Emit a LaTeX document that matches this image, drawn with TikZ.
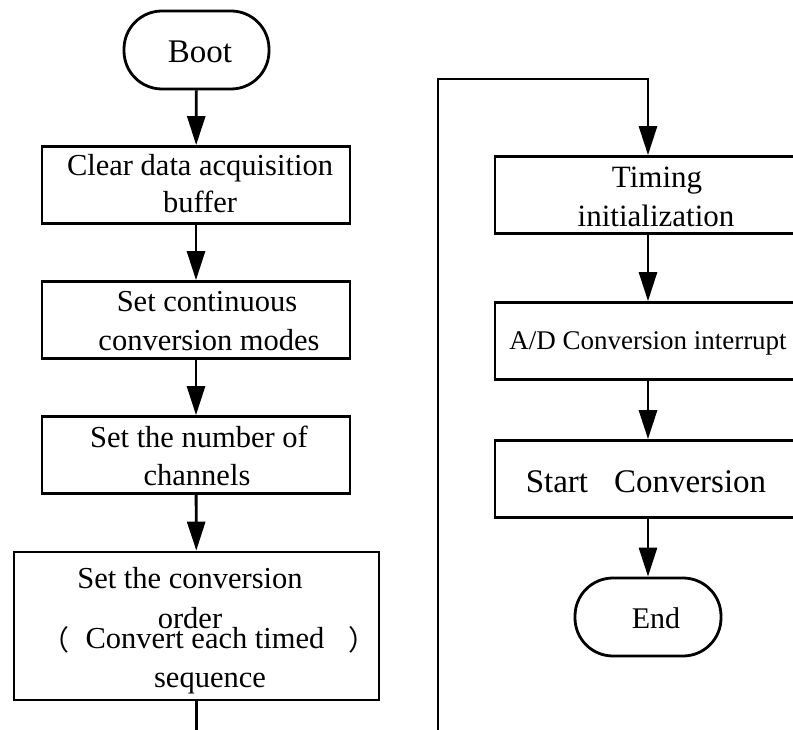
\documentclass[tikz,border=0pt]{standalone}
\usepackage{fontspec}
\setmainfont{Liberation Serif}
\newfontfamily\cjk{Noto Sans CJK SC}
\usetikzlibrary{arrows.meta}
\tikzset{
  lw/.style={line width=2.8pt},
  box/.style={draw, lw, rectangle, inner sep=0pt, minimum height=77pt},
  lbox/.style={box, minimum width=308pt},
  rbox/.style={box, minimum width=306pt},
  term/.style={draw, lw, rectangle, rounded corners=38pt, inner sep=0pt, minimum width=145pt, minimum height=78pt},
  txt/.style={anchor=base, inner sep=0pt, font=\fontsize{30}{36}\selectfont},
  conn/.style={lw, -{Triangle[width=18pt,length=29pt]}},
  plain/.style={lw}
}
\begin{document}
\begin{tikzpicture}[x=1pt,y=-1pt]
\useasboundingbox (0,0) rectangle (793,730);
\fill[white] (0,0) rectangle (793,730);
\clip (0,0) rectangle (793,730);

% left column shapes
\node[term] (boot) at (196.5,50) {};
\node[lbox] (b1) at (196,185) {};
\node[lbox] (b2) at (196,320) {};
\node[lbox] (b3) at (196,455) {};
\node[box, minimum width=365pt, minimum height=148pt] (b4) at (196.5,626) {};

% right column shapes
\node[rbox] (t1) at (648,195) {};
\node[rbox] (t2) at (648,341) {};
\node[rbox] (t3) at (648,479) {};
\node[term, minimum width=146pt] (endn) at (648,617) {};

% texts
\node[txt, font=\fontsize{33}{38}\selectfont] (tboot) at (200,63) {Boot};
\node[txt, font=\fontsize{30.5}{36}\selectfont] (tb1a) at (200,176) {Clear data acquisition};
\node[txt, font=\fontsize{30.5}{36}\selectfont] (tb1b) at (200,213) {buffer};
\node[txt, font=\fontsize{30.5}{36}\selectfont] (tb2a) at (207,312) {Set continuous};
\node[txt, font=\fontsize{30.5}{36}\selectfont] (tb2b) at (209,350) {conversion modes};
\node[txt, font=\fontsize{30.5}{36}\selectfont] (tb3a) at (199,447) {Set the number of};
\node[txt, font=\fontsize{30.5}{36}\selectfont] (tb3b) at (197,485) {channels};
\node[txt, font=\fontsize{30.5}{36}\selectfont] (tb4a) at (190,588) {Set the conversion};
\node[txt, font=\fontsize{30.5}{36}\selectfont] (tb4b) at (190,628) {order};
\node[txt, font=\fontsize{30.5}{36}\selectfont] (tb4c) at (205,648) {Convert each timed};
\node[txt, font=\fontsize{30.5}{36}\selectfont] (tb4d) at (210,687) {sequence};
\node[txt, font=\fontsize{28}{32}\cjk] (lpar) at (55,650) {（};
\node[txt, font=\fontsize{28}{32}\cjk] (rpar) at (362,650) {）};

\node[txt, font=\fontsize{31}{36}\selectfont] (tt1a) at (657,188) {Timing};
\node[txt, font=\fontsize{31}{36}\selectfont] (tt1b) at (656,227) {initialization};
\node[txt, font=\fontsize{27}{32}\selectfont] (tt2) at (648,349) {A/D Conversion interrupt};
\node[txt, font=\fontsize{33}{38}\selectfont] (tt3) at (646,492) {Start\hspace{26pt}Conversion};
\node[txt] (tend) at (656,628) {End};

% connectors
\draw[conn] (boot) -- (b1);
\draw[conn] (b1) -- (b2);
\draw[conn] (b2) -- (b3);
\draw[conn] (b3) -- (b4);
\coordinate (lbot) at (196.5,740);
\draw[plain] (b4.south) -- (lbot);
\coordinate (rbot) at (438,740);
\coordinate (rtop) at (438,79);
\draw[conn] (rbot) -- (rtop) -| (t1.north);
\draw[conn] (t1) -- (t2);
\draw[conn] (t2) -- (t3);
\draw[conn] (t3) -- (endn);
\end{tikzpicture}
\end{document}
